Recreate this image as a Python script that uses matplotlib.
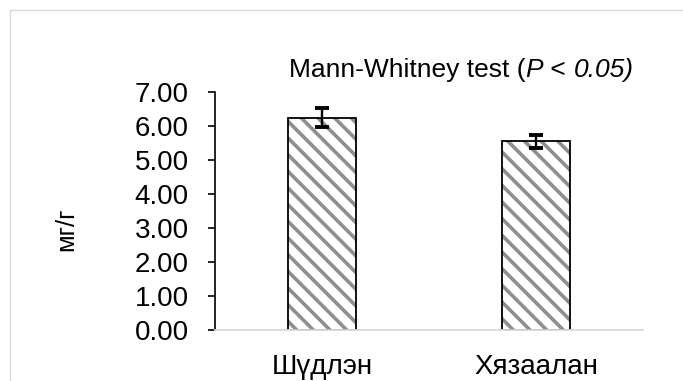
import matplotlib
matplotlib.use('Agg')
import matplotlib.pyplot as plt
from matplotlib.patches import Rectangle
from matplotlib.transforms import offset_copy

plt.rcParams['font.family'] = ['Liberation Sans', 'DejaVu Sans']
plt.rcParams['hatch.linewidth'] = 2.6

categories = ['Шүдлэн', 'Хязаалан']
means = [6.25, 5.55]
errors = [0.28, 0.20]
yticks = [0, 1, 2, 3, 4, 5, 6, 7]

fig = plt.figure(figsize=(6.83, 3.81), dpi=100)
ax = fig.add_axes([215 / 683, 1 - 330 / 381, 428 / 683, 238 / 381])

# light grey chart-area frame
fig.patches.append(Rectangle((10 / 683, -0.05), 1.0, 1 - 10 / 381 + 0.05,
                             transform=fig.transFigure, fill=False,
                             edgecolor='#d9d9d9', linewidth=1.0))

x = list(range(len(categories)))
# grey diagonal hatch first, then the black outline on top
ax.bar(x, means, width=0.315, color='white', edgecolor='#8f8f8f',
       linewidth=0, hatch='\\\\', zorder=2)
ax.bar(x, means, width=0.315, fill=False, edgecolor='black',
       linewidth=1.3, zorder=2.5)
ax.errorbar(x, means, yerr=errors, fmt='none', ecolor='black',
            elinewidth=1.7, capsize=4.8, capthick=2.8, zorder=3)

ax.set_xlim(-0.5, 1.5)
ax.set_ylim(0, 7)
ax.set_yticks(yticks)
ax.set_yticklabels([f'{v:.2f}' for v in yticks], fontsize=20)
ax.tick_params(axis='y', direction='out', length=5, width=1.2, pad=14)
ax.set_xticks(x)
ax.set_xticklabels(categories, fontsize=20)
ax.tick_params(axis='x', length=0, pad=17)

for side in ['top', 'right']:
    ax.spines[side].set_visible(False)
ax.spines['left'].set_linewidth(1.2)
ax.spines['bottom'].set_color('#d9d9d9')
ax.spines['bottom'].set_linewidth(1.3)

fig.text(66 / 683, 1 - 229 / 381, 'мг/г', rotation=90, fontsize=18.5,
         ha='center', va='center')

# title with italic P and p-value, laid out piece by piece
parts = [('Mann-Whitney test (', 'normal'), ('P', 'italic'),
         (' < ', 'normal'), ('0.05)', 'italic')]
renderer = fig.canvas.get_renderer()
trans = fig.transFigure
x0, y0 = 289 / 683, 1 - 77 / 381
for s, style in parts:
    t = fig.text(x0, y0, s, fontsize=19, style=style, va='baseline',
                 transform=trans)
    w = t.get_window_extent(renderer).width
    trans = offset_copy(trans, fig=fig, x=w, y=0, units='dots')

fig.savefig('out.png', dpi=100)
